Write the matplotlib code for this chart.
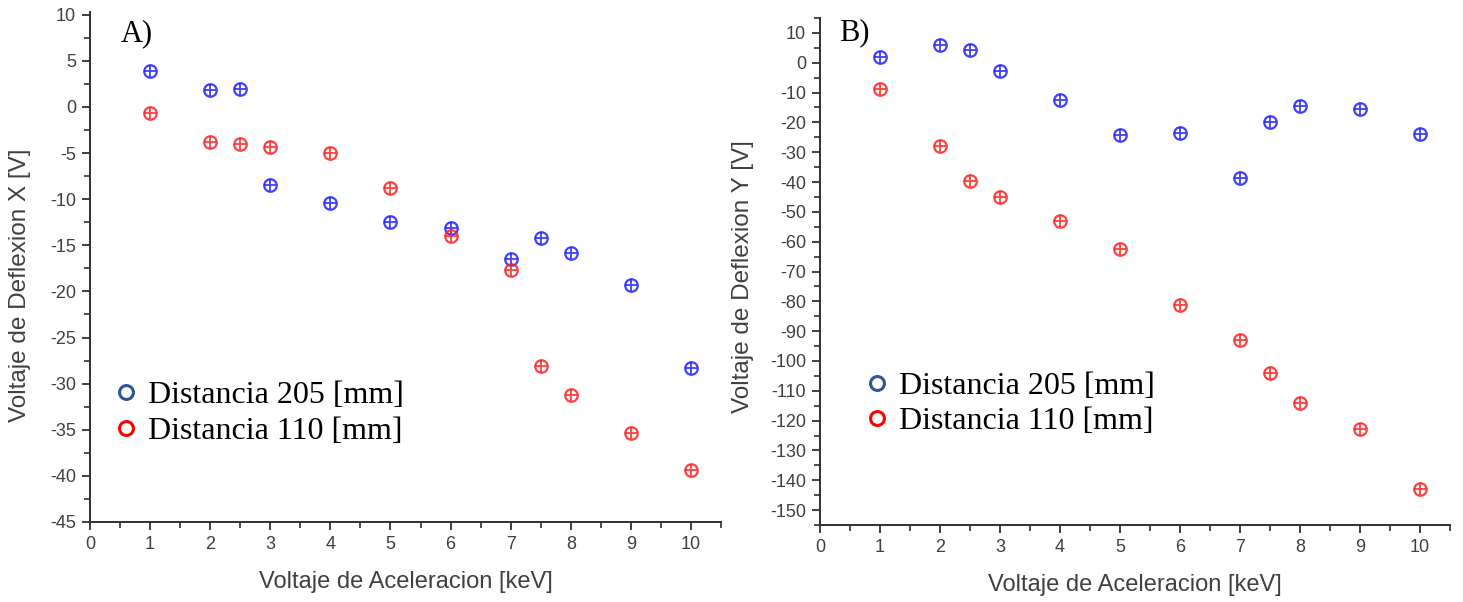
import matplotlib
matplotlib.use("Agg")
import matplotlib.pyplot as plt
from matplotlib.lines import Line2D
from matplotlib.ticker import MultipleLocator
from matplotlib import font_manager

# ---------------- data ----------------
voltage_kev = [1, 2, 2.5, 3, 4, 5, 6, 7, 7.5, 8, 9, 10]

defl_x_205 = [3.9, 1.8, 1.9, -8.5, -10.4, -12.5, -13.1, -16.5, -14.2, -15.8, -19.3, -28.3]
defl_x_110 = [-0.7, -3.8, -4.0, -4.3, -5.0, -8.8, -14.0, -17.7, -28.1, -31.2, -35.4, -39.4]

defl_y_205 = [2.0, 5.9, 4.2, -2.7, -12.5, -24.2, -23.4, -38.8, -20.0, -14.4, -15.6, -23.9]
defl_y_110 = [-8.8, -27.9, -39.6, -45.0, -53.2, -62.4, -81.2, -93.0, -104.0, -114.2, -122.8, -142.9]

series_labels = ["Distancia 205 [mm]", "Distancia 110 [mm]"]
panel_labels = ["A)", "B)"]
x_label = "Voltaje de Aceleracion [keV]"
y_labels = ["Voltaje de Deflexion X [V]", "Voltaje de Deflexion Y [V]"]

# ---------------- style ----------------
plt.rcParams["axes.unicode_minus"] = False
avail = {f.name for f in font_manager.fontManager.ttflist}
sans = "Liberation Sans"
narrow = "Liberation Sans Narrow" if "Liberation Sans Narrow" in avail else "Liberation Sans"
serif = "Liberation Serif"

blue = "#1f1fff"
red = "#ff1f1f"
leg_blue = "#2f5597"
leg_red = "#ff0000"
txt_gray = "#404040"

fig = plt.figure(figsize=(14.63, 6.02), dpi=100)
W, H = 1463, 602

def add_axes(x0, x1, ytop, ybot):
    return fig.add_axes([x0 / W, 1 - ybot / H, (x1 - x0) / W, (ybot - ytop) / H])

axA = add_axes(90, 721, 12, 522)
axB = add_axes(820, 1450, 18, 525)

def style_axes(ax, ylim, ymaj, ymin):
    ax.set_xlim(0, 10.5)
    ax.set_ylim(*ylim)
    for s in ["top", "right"]:
        ax.spines[s].set_visible(False)
    for s in ["left", "bottom"]:
        ax.spines[s].set_linewidth(1.4)
        ax.spines[s].set_color("#303030")
    ax.xaxis.set_major_locator(MultipleLocator(1))
    ax.xaxis.set_minor_locator(MultipleLocator(0.5))
    ax.yaxis.set_major_locator(MultipleLocator(ymaj))
    ax.yaxis.set_minor_locator(MultipleLocator(ymin))
    ax.tick_params(which="major", direction="out", length=6, width=1.3,
                   color="#303030", labelcolor=txt_gray, labelsize=13, pad=4)
    ax.tick_params(which="minor", direction="out", length=4, width=1.2, color="#303030")
    for lab in ax.get_xticklabels() + ax.get_yticklabels():
        lab.set_fontfamily(narrow)

def plot_series(ax, x, y, color):
    ax.plot(x, y, linestyle="none", marker="o", markersize=9, markerfacecolor="none",
            markeredgecolor=color, markeredgewidth=1.6, alpha=0.85, zorder=3)
    ax.plot(x, y, linestyle="none", marker="+", markersize=9,
            markeredgecolor=color, markeredgewidth=1.3, alpha=0.85, zorder=3)

configs = [
    (axA, (-45, 10.3), 5, 2.5, defl_x_205, defl_x_110, y_labels[0], panel_labels[0],
     (0.048, 0.985), (0.017, 0.213), 0.465),
    (axB, (-155, 15), 10, 5, defl_y_205, defl_y_110, y_labels[1], panel_labels[1],
     (0.030, 1.0), (0.050, 0.239), 0.49),
]

for ax, ylim, ymaj, ymin, s205, s110, ylab, plab, ppos, lpos, ylab_y in configs:
    style_axes(ax, ylim, ymaj, ymin)
    plot_series(ax, voltage_kev, s205, blue)
    plot_series(ax, voltage_kev, s110, red)
    ax.set_xlabel(x_label, fontsize=17, color=txt_gray, family=sans, labelpad=13)
    ax.set_ylabel(ylab, fontsize=17.5, color=txt_gray, family=sans)
    ax.yaxis.set_label_coords(-0.094 if ax is axA else -0.105, ylab_y)
    ax.text(ppos[0], ppos[1], plab, transform=ax.transAxes, fontsize=22, family=serif,
            color="black", ha="left", va="top")
    handles = [
        Line2D([], [], linestyle="none", marker="o", markersize=10, markerfacecolor="none",
               markeredgecolor=leg_blue, markeredgewidth=2.2),
        Line2D([], [], linestyle="none", marker="o", markersize=10, markerfacecolor="none",
               markeredgecolor=leg_red, markeredgewidth=2.2),
    ]
    ax.legend(handles, series_labels, loc="center left", bbox_to_anchor=lpos,
              frameon=False, prop={"family": serif, "size": 23},
              handlelength=0.6, handletextpad=0.38, labelspacing=0.19, borderpad=0)

fig.savefig("out.png", dpi=100)
